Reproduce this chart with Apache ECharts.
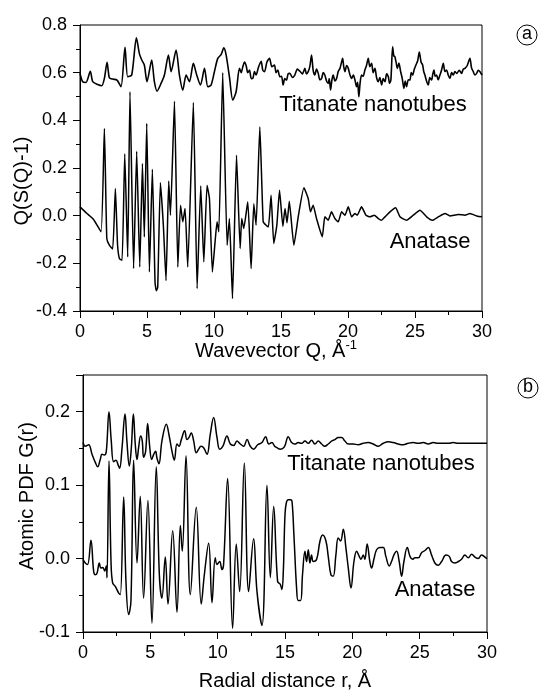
<!DOCTYPE html>
<html><head><meta charset="utf-8">
<script src="https://cdn.jsdelivr.net/npm/echarts@6/dist/echarts.min.js"></script>
<style>html,body{margin:0;padding:0;background:#fff}#c{width:539px;height:691px}</style>
</head><body><div id="c"></div>
<script>
// ---------- data ----------
const xTicksQ = [0, 5, 10, 15, 20, 25, 30];
const yTicksSQ = [-0.4, -0.2, 0.0, 0.2, 0.4, 0.6, 0.8];
const yTicksG = [-0.1, 0.0, 0.1, 0.2];

// Panel (a): Q(S(Q)-1) vs Q
const anataseSQ = [
[0,0.037],[0.5,0.010],[1.0,-0.015],[1.57,-0.068],[1.82,0.366],[2.0,-0.096],[2.2,-0.125],[2.44,-0.14],[2.64,0.114],[2.8,-0.12],
[2.94,-0.18],[3.14,-0.187],[3.34,0.26],[3.56,-0.173],[3.73,0.52],[4.0,-0.222],[4.23,0.27],[4.46,-0.215],[4.66,0.219],[4.8,-0.089],
[4.98,0.387],[5.18,-0.236],[5.4,0.195],[5.6,-0.28],[5.7,-0.315],[5.8,-0.30],[6.0,0.139],[6.22,-0.04],[6.42,-0.273],[6.62,0.145],
[6.75,0.002],[7.05,0.48],[7.3,-0.215],[7.5,0.044],[7.67,-0.026],[7.84,0.03],[8.04,-0.215],[8.46,0.475],[8.74,-0.306],[9.01,0.125],
[9.24,-0.194],[9.48,0.128],[9.66,0.072],[9.88,-0.236],[10.08,-0.11],[10.23,-0.026],[10.36,-0.068],[10.65,0.6],[10.98,-0.124],[11.15,-0.012],
[11.38,-0.348],[11.68,0.254],[11.95,-0.138],[12.07,-0.012],[12.22,-0.054],[12.52,0.058],[12.77,-0.222],[12.97,0.05],[13.14,-0.04],[13.42,0.373],
[13.67,-0.026],[13.89,-0.04],[14.06,-0.047],[14.26,0.086],[14.46,-0.117],[14.69,-0.04],[14.89,0.107],[15.14,-0.045],[15.3,0.03],[15.45,-0.03],
[15.62,0.06],[15.96,-0.124],[16.3,0.0],[16.71,0.117],[17.03,0.072],[17.2,0.016],[17.4,0.044],[17.65,-0.012],[18.08,-0.089],[18.27,-0.005],
[18.52,-0.019],[18.77,0.016],[19.02,-0.012],[19.27,-0.026],[19.52,0.016],[19.77,0.002],[20.02,0.037],[20.27,-0.005],[20.52,0.009],[20.69,0.002],
[21.01,0.037],[21.34,0.002],[21.64,-0.005],[21.96,0.002],[22.26,-0.012],[22.51,-0.019],[22.76,-0.005],[23.13,0.016],[23.55,0.033],[23.88,-0.005],
[24.37,-0.019],[24.87,0.002],[25.37,0.023],[25.87,-0.005],[26.3,-0.019],[26.74,-0.005],[27.24,0.009],[27.61,-0.001],[28.23,0.005],[28.73,0.002],
[29.1,0.009],[29.6,-0.001],[30,-0.005]
];
const titanateSQ = [
[0,0.597],[0.2,0.562],[0.45,0.559],[0.77,0.606],[0.95,0.562],[1.32,0.550],[1.62,0.545],[1.82,0.576],[2.02,0.643],[2.19,0.579],
[2.44,0.573],[2.76,0.569],[3.06,0.541],[3.36,0.706],[3.56,0.583],[3.86,0.590],[4.21,0.746],[4.43,0.680],[4.61,0.653],[4.8,0.632],
[5.0,0.562],[5.35,0.653],[5.55,0.562],[5.75,0.522],[6.05,0.555],[6.3,0.590],[6.6,0.674],[6.8,0.604],[7.17,0.695],[7.42,0.590],
[7.67,0.527],[7.92,0.590],[8.17,0.562],[8.46,0.639],[8.71,0.590],[8.99,0.548],[9.29,0.618],[9.54,0.541],[9.78,0.548],[10.03,0.604],
[10.28,0.660],[10.53,0.676],[10.73,0.704],[10.9,0.676],[11.15,0.583],[11.4,0.485],[11.65,0.520],[11.9,0.618],[12.03,0.600],
[12.15,0.625],[12.28,0.645],[12.4,0.629],[12.52,0.600],[12.65,0.611],[12.78,0.575],[12.9,0.576],[13.02,0.605],[13.14,0.590],[13.33,0.625],
[13.52,0.648],[13.64,0.610],[13.77,0.604],[13.95,0.645],[14.14,0.660],[14.32,0.625],[14.51,0.632],[14.63,0.600],[14.76,0.611],[14.91,0.583],
[15.04,0.585],[15.16,0.548],[15.28,0.575],[15.41,0.569],[15.53,0.595],[15.66,0.597],[15.85,0.580],[16.03,0.590],[16.22,0.615],[16.41,0.606],
[16.6,0.595],[16.78,0.618],[16.9,0.595],[17.03,0.604],[17.15,0.625],[17.28,0.674],[17.4,0.610],[17.53,0.590],[17.65,0.615],[17.78,0.597],
[17.9,0.570],[18.03,0.576],[18.15,0.600],[18.27,0.590],[18.4,0.565],[18.52,0.555],[18.6,0.575],[18.7,0.527],[18.8,0.570],[18.9,0.590],
[19.02,0.565],[19.15,0.576],[19.27,0.605],[19.4,0.618],[19.5,0.640],[19.6,0.660],[19.68,0.625],[19.77,0.604],[19.9,0.630],[20.02,0.618],
[20.15,0.590],[20.27,0.576],[20.4,0.590],[20.52,0.569],[20.64,0.541],[20.72,0.560],[20.81,0.499],[20.9,0.555],[21.01,0.590],[21.13,0.585],
[21.26,0.611],[21.38,0.630],[21.51,0.660],[21.63,0.625],[21.76,0.639],[21.88,0.600],[22.01,0.618],[22.13,0.580],[22.26,0.562],[22.38,0.580],
[22.51,0.548],[22.63,0.575],[22.76,0.562],[22.88,0.595],[23.01,0.583],[23.1,0.555],[23.2,0.569],[23.33,0.709],[23.42,0.670],[23.5,0.667],
[23.6,0.640],[23.68,0.618],[23.8,0.640],[23.93,0.604],[24.05,0.575],[24.17,0.534],[24.27,0.565],[24.37,0.541],[24.5,0.570],[24.62,0.569],
[24.72,0.600],[24.82,0.590],[24.95,0.615],[25.07,0.632],[25.2,0.650],[25.32,0.687],[25.45,0.645],[25.57,0.632],[25.65,0.605],[25.74,0.590],
[25.86,0.565],[25.99,0.548],[26.1,0.580],[26.24,0.569],[26.33,0.595],[26.42,0.611],[26.5,0.585],[26.61,0.590],[26.73,0.570],[26.86,0.590],
[26.98,0.610],[27.11,0.639],[27.23,0.605],[27.36,0.611],[27.48,0.590],[27.61,0.576],[27.73,0.600],[27.86,0.590],[27.98,0.605],[28.11,0.597],
[28.3,0.610],[28.48,0.597],[28.6,0.615],[28.73,0.618],[28.9,0.630],[29.1,0.660],[29.22,0.620],[29.35,0.604],[29.47,0.590],[29.6,0.597],
[29.72,0.610],[29.85,0.604],[30,0.590]
];

// Panel (b): G(r) vs r
const anataseG = [
[0,-0.001],[0.17,-0.006],[0.34,-0.008],[0.59,0.025],[0.79,-0.017],[0.91,-0.022],[1.04,-0.020],[1.21,-0.006],[1.33,-0.013],[1.48,-0.012],
[1.61,-0.017],[1.73,-0.010],[1.78,-0.026],[1.93,0.133],[2.08,-0.004],[2.2,-0.033],[2.4,-0.038],[2.65,-0.047],[2.77,-0.049],[3.02,0.084],
[3.19,-0.031],[3.39,-0.076],[3.56,-0.058],[3.76,0.134],[4.01,-0.006],[4.25,0.085],[4.5,-0.054],[4.82,0.079],[5.12,-0.088],[5.44,0.125],
[5.67,-0.022],[5.86,-0.054],[6.11,0.002],[6.31,-0.062],[6.66,0.038],[6.98,-0.073],[7.23,0.045],[7.37,0.010],[7.65,0.140],[7.97,-0.049],
[8.41,0.070],[8.78,-0.062],[9.01,-0.022],[9.33,0.021],[9.58,-0.060],[9.82,0.001],[9.95,-0.008],[10.15,-0.004],[10.32,-0.015],[10.44,-0.008],
[10.74,0.109],[11.11,-0.095],[11.38,0.020],[11.63,-0.045],[11.98,0.130],[12.3,-0.045],[12.67,0.027],[12.92,-0.045],[13.29,-0.091],[13.66,0.100],
[13.91,-0.026],[14.16,0.071],[14.45,-0.031],[14.65,-0.035],[14.77,-0.042],[14.87,-0.02],[15.0,0.06],[15.1,0.076],[15.24,0.08],[15.41,0.08],
[15.52,0.078],[15.66,0.033],[15.86,-0.04],[15.98,-0.057],[16.16,-0.057],[16.3,-0.022],[16.48,0.010],[16.6,-0.004],[16.73,0.012],[16.85,-0.006],
[16.97,0.005],[17.1,-0.004],[17.35,-0.001],[17.6,0.024],[17.79,0.032],[18.04,0.024],[18.21,0.003],[18.41,-0.022],[18.58,-0.024],[18.78,0.005],
[18.95,0.028],[19.13,0.024],[19.33,0.040],[19.52,0.015],[19.7,-0.013],[19.9,-0.040],[20.12,-0.004],[20.32,0.010],[20.51,0.003],[20.64,-0.001],
[20.81,0.005],[20.93,-0.001],[21.1,0.020],[21.3,-0.004],[21.43,-0.013],[21.6,-0.001],[21.8,0.012],[22.05,0.015],[22.3,0.015],[22.49,0.003],
[22.74,-0.010],[22.91,-0.004],[23.09,0.005],[23.29,0.010],[23.48,-0.004],[23.66,-0.024],[23.83,-0.004],[24.08,0.015],[24.28,0.003],[24.47,-0.001],
[24.65,0.001],[24.9,0.001],[25.14,0.008],[25.39,0.011],[25.64,0.015],[25.88,0.005],[26.13,-0.006],[26.38,-0.009],[26.63,-0.004],[26.95,0.005],
[27.2,0.003],[27.37,-0.004],[27.62,-0.006],[27.87,-0.004],[28.11,-0.001],[28.36,0.005],[28.61,0.001],[28.86,0.006],[29.1,0.002],[29.35,0.0],
[29.6,0.005],[29.85,0.002],[30,0.0]
];
const titanateG = [
[0,0.158],[0.17,0.153],[0.42,0.155],[0.67,0.142],[0.91,0.131],[1.09,0.125],[1.28,0.135],[1.41,0.142],[1.58,0.141],[1.73,0.146],
[1.93,0.200],[2.1,0.160],[2.27,0.132],[2.45,0.134],[2.6,0.128],[2.72,0.123],[2.89,0.149],[3.12,0.197],[3.26,0.160],[3.44,0.126],
[3.59,0.151],[3.74,0.197],[3.88,0.156],[4.01,0.135],[4.13,0.151],[4.28,0.167],[4.4,0.160],[4.5,0.138],[4.65,0.146],[4.8,0.184],
[4.95,0.153],[5.1,0.135],[5.25,0.142],[5.39,0.146],[5.49,0.137],[5.64,0.129],[5.86,0.160],[6.19,0.183],[6.38,0.169],[6.61,0.146],
[6.78,0.134],[6.98,0.156],[7.13,0.153],[7.3,0.162],[7.55,0.174],[7.72,0.162],[7.87,0.165],[8.04,0.171],[8.22,0.160],[8.41,0.144],
[8.59,0.149],[8.76,0.153],[8.96,0.151],[9.21,0.142],[9.45,0.169],[9.7,0.192],[9.95,0.165],[10.15,0.149],[10.39,0.153],[10.69,0.167],
[10.94,0.156],[11.19,0.154],[11.43,0.160],[11.68,0.156],[11.93,0.153],[12.18,0.162],[12.42,0.153],[12.67,0.149],[12.97,0.155],[13.29,0.158],
[13.56,0.166],[13.8,0.156],[14.03,0.158],[14.23,0.153],[14.4,0.151],[14.65,0.149],[14.95,0.152],[15.24,0.166],[15.49,0.158],[15.74,0.156],
[15.98,0.158],[16.23,0.157],[16.48,0.160],[16.73,0.157],[16.97,0.161],[17.22,0.156],[17.47,0.160],[17.72,0.156],[17.96,0.153],[18.21,0.156],
[18.46,0.160],[18.71,0.162],[18.95,0.165],[19.2,0.165],[19.45,0.160],[19.7,0.156],[20.07,0.156],[20.44,0.155],[20.81,0.157],[21.18,0.158],
[21.55,0.156],[21.92,0.153],[22.3,0.157],[22.67,0.159],[23.04,0.158],[23.41,0.156],[23.78,0.155],[24.15,0.157],[24.52,0.158],[24.9,0.157],
[25.27,0.158],[25.64,0.156],[26.01,0.158],[26.38,0.157],[26.75,0.157],[27.12,0.157],[27.49,0.158],[27.87,0.157],[28.24,0.157],[28.61,0.157],
[28.98,0.157],[29.35,0.157],[29.72,0.157],[30,0.157]
];

// ---------- chart ----------
const FONT = 'Liberation Sans, Arial, sans-serif';
const chart = echarts.init(document.getElementById('c'), null, {renderer: 'canvas'});

function xAxisCfg(gi) {
  return {
    type: 'value', gridIndex: gi, min: 0, max: 30, interval: 5,
    axisLine: {show: true, onZero: false, lineStyle: {color: '#000', width: 1}},
    axisTick: {show: true, inside: false, length: 7, lineStyle: {color: '#000', width: 1}},
    minorTick: {show: true, splitNumber: 2, length: 4, lineStyle: {color: '#000', width: 1}},
    splitLine: {show: false}, minorSplitLine: {show: false},
    axisLabel: {color: '#000', fontSize: 18, fontFamily: FONT, margin: 12,
      formatter: v => (xTicksQ.indexOf(Math.round(v)) >= 0 ? String(Math.round(v)) : '')}
  };
}
function yAxisCfg(gi, min, max, interval, ticks) {
  return {
    type: 'value', gridIndex: gi, min: min, max: max, interval: interval,
    axisLine: {show: true, onZero: false, lineStyle: {color: '#000', width: 1}},
    axisTick: {show: true, inside: false, length: 7, lineStyle: {color: '#000', width: 1}},
    minorTick: {show: true, splitNumber: 2, length: 4, lineStyle: {color: '#000', width: 1}},
    splitLine: {show: false}, minorSplitLine: {show: false},
    axisLabel: {color: '#000', fontSize: 18, fontFamily: FONT, margin: 13, showMaxLabel: true,
      formatter: v => {
        const ok = ticks.some(t => Math.abs(t - v) < 1e-6);
        if (!ok) return '';
        return Math.abs(v) < 1e-9 ? '0.0' : v.toFixed(1);
      }}
  };
}
function lineSeries(data, xi, yi, smooth, width) {
  return {type: 'line', data: data, xAxisIndex: xi, yAxisIndex: yi, showSymbol: false, symbol: 'none',
    smooth: smooth, lineStyle: {color: '#000', width: width}, clip: true, animation: false, silent: true};
}
function txt(x, y, text, size, rot) {
  return {type: 'text', x: x, y: y, rotation: rot || 0, silent: true,
    style: {text: text, fill: '#000', fontSize: size, fontFamily: FONT,
      textAlign: 'center', textVerticalAlign: 'middle', align: 'center', verticalAlign: 'middle'}};
}

chart.setOption({
  animation: false,
  backgroundColor: '#fff',
  grid: [
    {left: 80, top: 25, width: 402, height: 286, show: true, borderColor: '#000', borderWidth: 1, backgroundColor: 'transparent'},
    {left: 83, top: 375, width: 404, height: 257, show: true, borderColor: '#000', borderWidth: 1, backgroundColor: 'transparent'}
  ],
  xAxis: [xAxisCfg(0), xAxisCfg(1)],
  yAxis: [yAxisCfg(0, -0.4, 0.8, 0.2, yTicksSQ), yAxisCfg(1, -0.1, 0.25, 0.1, yTicksG)],
  series: [
    lineSeries(titanateSQ, 0, 0, 0.25, 1.6),
    lineSeries(anataseSQ, 0, 0, 0.15, 1.5),
    lineSeries(titanateG, 1, 1, 0.4, 1.5),
    lineSeries(anataseG, 1, 1, 0.4, 1.5)
  ],
  graphic: [
    txt(22, 181, 'Q(S(Q)-1)', 20, Math.PI / 2),
    txt(27, 496, 'Atomic PDF G(r)', 20, Math.PI / 2),
    {type: 'text', x: 276, y: 351, silent: true,
      style: {text: '{a|Wavevector Q, Å}{s|-1}', fill: '#000', fontFamily: FONT,
        textAlign: 'center', textVerticalAlign: 'middle', align: 'center', verticalAlign: 'middle',
        rich: {a: {fontSize: 20, fontFamily: FONT, fill: '#000', lineHeight: 24},
               s: {fontSize: 13, fontFamily: FONT, fill: '#000', verticalAlign: 'top', lineHeight: 14}}}},
    txt(285, 681, 'Radial distance r, Å', 20),
    txt(373, 105, 'Titanate nanotubes', 22),
    txt(430, 242, 'Anatase', 22),
    txt(381, 464, 'Titanate nanotubes', 22),
    txt(435, 590, 'Anatase', 22),
    {type: 'circle', shape: {cx: 527, cy: 35, r: 10}, silent: true, style: {fill: 'none', stroke: '#000', lineWidth: 1}},
    txt(527, 34, 'a', 18),
    {type: 'circle', shape: {cx: 528, cy: 388, r: 10}, silent: true, style: {fill: 'none', stroke: '#000', lineWidth: 1}},
    txt(528, 387, 'b', 18)
  ]
});
</script>
</body></html>
